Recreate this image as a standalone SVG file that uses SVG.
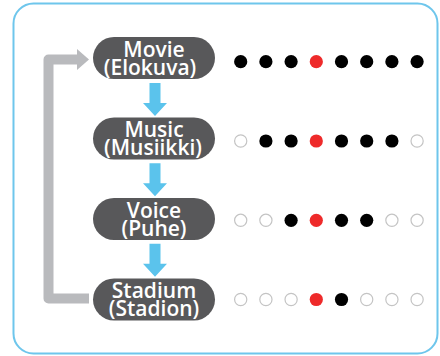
<svg xmlns="http://www.w3.org/2000/svg" xmlns:xlink="http://www.w3.org/1999/xlink" width="440" height="356" viewBox="0 0 440 356">
<style>
.frame{fill:#ffffff;stroke:#6ec6ec;stroke-width:2}
.pill{fill:#58585a}
.lbl{font-family:"Open Sans","Noto Sans","DejaVu Sans",sans-serif;font-weight:600;font-size:21px;fill:#ffffff;text-anchor:middle}
.flow{fill:#5bc3ec}
.loop{fill:none;stroke:#b9babd;stroke-width:10;stroke-linejoin:round}
.loophead{fill:#b9babd}
.on{fill:#000000}
.red{fill:#ee2a2a}
.off{fill:#ffffff;stroke:#c4c4c4;stroke-width:1.2}
</style>
<defs>
<path id="down" d="M-5.5,0 H5.5 V20 H12 L0,33 L-12,20 H-5.5 Z"/>
</defs>
<rect class="frame" x="13.5" y="3.5" width="424" height="350" rx="20" ry="20"/>
<g id="connectors">
<path class="loop" d="M89,298.5 H48.5 V59.5 H78"/>
<polygon class="loophead" points="77,49 89,59.5 77,70"/>
<use xlink:href="#down" class="flow" x="155" y="83"/>
<use xlink:href="#down" class="flow" x="155" y="163.3"/>
<use xlink:href="#down" class="flow" x="155" y="243.7"/>
</g>
<g id="movie">
<rect class="pill" x="93" y="37" width="122" height="42" rx="21"/>
<text class="lbl" x="154" y="56.5">Movie</text>
<text class="lbl" x="150" y="74.5">(Elokuva)</text>
</g>
<g id="music">
<rect class="pill" x="93" y="117.5" width="122" height="42" rx="21"/>
<text class="lbl" x="154" y="137">Music</text>
<text class="lbl" x="153" y="155">(Musiikki)</text>
</g>
<g id="voice">
<rect class="pill" x="93" y="198" width="122" height="42" rx="21"/>
<text class="lbl" x="154" y="217.5">Voice</text>
<text class="lbl" x="154" y="235.5">(Puhe)</text>
</g>
<g id="stadium">
<rect class="pill" x="93" y="278.5" width="122" height="42" rx="21"/>
<text class="lbl" x="154" y="297.5">Stadium</text>
<text class="lbl" x="154" y="315.5">(Stadion)</text>
</g>
<g id="dots-movie">
<circle class="on" cx="240.7" cy="61.7" r="6.6"/>
<circle class="on" cx="265.9" cy="61.7" r="6.6"/>
<circle class="on" cx="291.1" cy="61.7" r="6.6"/>
<circle class="red" cx="316.3" cy="61.7" r="6.6"/>
<circle class="on" cx="341.5" cy="61.7" r="6.6"/>
<circle class="on" cx="366.7" cy="61.7" r="6.6"/>
<circle class="on" cx="391.9" cy="61.7" r="6.6"/>
<circle class="on" cx="417.1" cy="61.7" r="6.6"/>
</g>
<g id="dots-music">
<circle class="off" cx="240.7" cy="141" r="6.1"/>
<circle class="on" cx="265.9" cy="141" r="6.6"/>
<circle class="on" cx="291.1" cy="141" r="6.6"/>
<circle class="red" cx="316.3" cy="141" r="6.6"/>
<circle class="on" cx="341.5" cy="141" r="6.6"/>
<circle class="on" cx="366.7" cy="141" r="6.6"/>
<circle class="on" cx="391.9" cy="141" r="6.6"/>
<circle class="off" cx="417.1" cy="141" r="6.1"/>
</g>
<g id="dots-voice">
<circle class="off" cx="240.7" cy="220.3" r="6.1"/>
<circle class="off" cx="265.9" cy="220.3" r="6.1"/>
<circle class="on" cx="291.1" cy="220.3" r="6.6"/>
<circle class="red" cx="316.3" cy="220.3" r="6.6"/>
<circle class="on" cx="341.5" cy="220.3" r="6.6"/>
<circle class="on" cx="366.7" cy="220.3" r="6.6"/>
<circle class="off" cx="391.9" cy="220.3" r="6.1"/>
<circle class="off" cx="417.1" cy="220.3" r="6.1"/>
</g>
<g id="dots-stadium">
<circle class="off" cx="240.7" cy="299.5" r="6.1"/>
<circle class="off" cx="265.9" cy="299.5" r="6.1"/>
<circle class="off" cx="291.1" cy="299.5" r="6.1"/>
<circle class="red" cx="316.3" cy="299.5" r="6.6"/>
<circle class="on" cx="341.5" cy="299.5" r="6.6"/>
<circle class="off" cx="366.7" cy="299.5" r="6.1"/>
<circle class="off" cx="391.9" cy="299.5" r="6.1"/>
<circle class="off" cx="417.1" cy="299.5" r="6.1"/>
</g>
</svg>
